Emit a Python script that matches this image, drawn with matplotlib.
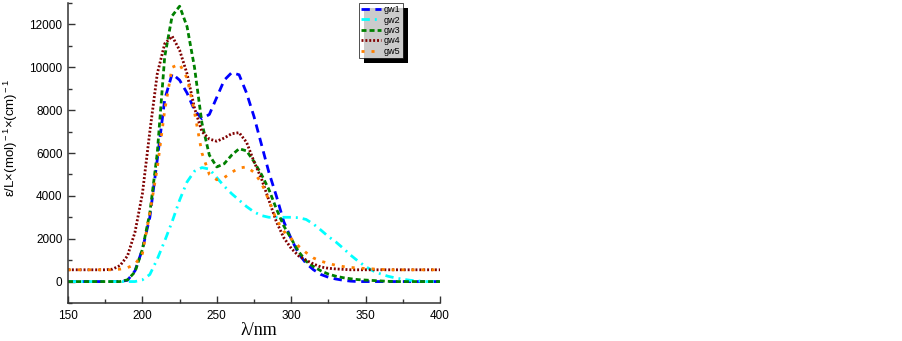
import matplotlib
matplotlib.use('Agg')
import matplotlib.pyplot as plt
from matplotlib.patches import Rectangle
from matplotlib.ticker import MultipleLocator

wavelength = list(range(150, 401, 5))

gw1 = [0, 0, 0, 0, 0, 0, 0, 0, 60, 500,
       1500, 3000, 5700, 8500, 9700, 9400, 8800, 8000, 7600, 7800,
       8600, 9400, 9750, 9650, 8800, 7700, 6400, 5100, 4000, 2800,
       2000, 1300, 850, 550, 330, 200, 120, 60, 20, 0,
       0, 0, 0, 0, 0, 0, 0, 0, 0, 0, 0]
gw2 = [0, 0, 0, 0, 0, 0, 0, 0, 0, 0,
       80, 330, 1050, 1900, 2800, 3800, 4650, 5150, 5320, 5250,
       4850, 4450, 4100, 3800, 3500, 3250, 3080, 3000, 3000, 3000,
       3000, 2980, 2900, 2680, 2400, 2100, 1850, 1550, 1230, 950,
       700, 500, 360, 250, 170, 110, 60, 30, 0, 0, 0]
gw3 = [0, 0, 0, 0, 0, 0, 0, 0, 80, 450,
       1500, 3200, 6000, 10500, 12400, 12850, 11900, 10000, 7400, 5900,
       5350, 5500, 5900, 6200, 6100, 5600, 5000, 4300, 3400, 2600,
       2000, 1400, 950, 700, 500, 350, 250, 180, 130, 90,
       70, 50, 30, 10, 0, 0, 0, 0, 0, 0, 0]
gw4 = [550, 550, 550, 550, 550, 550, 580, 750, 1200, 2300,
       4100, 7000, 9700, 11100, 11450, 10800, 9700, 8100, 7000, 6650,
       6550, 6700, 6900, 6950, 6500, 5600, 4800, 3800, 2800, 2050,
       1550, 1200, 1000, 820, 680, 620, 590, 570, 550, 550,
       550, 550, 550, 550, 550, 550, 550, 550, 550, 550, 550]
gw5 = [550, 550, 550, 550, 550, 550, 550, 580, 650, 800,
       1300, 3200, 5300, 8000, 10000, 10150, 9500, 7900, 6000, 5000,
       4750, 4850, 5100, 5300, 5350, 5100, 4600, 3800, 2900, 2350,
       2000, 1650, 1350, 1100, 950, 850, 760, 700, 660, 630,
       610, 590, 570, 550, 550, 550, 550, 550, 550, 550, 550]

labels = ['gw1', 'gw2', 'gw3', 'gw4', 'gw5']

plt.rcParams['font.family'] = ['Liberation Sans', 'DejaVu Sans']
plt.rcParams['mathtext.fontset'] = 'custom'
plt.rcParams['mathtext.rm'] = 'Liberation Sans'
plt.rcParams['mathtext.it'] = 'Liberation Sans:italic'

fig = plt.figure(figsize=(9.03, 3.41), dpi=100)
ax = fig.add_axes([68 / 903, 38 / 341, 372 / 903, 300 / 341])

lw = 2.0
ax.plot(wavelength, gw1, color='#0000ff', lw=lw, ls=(0, (3, 2)), label=labels[0])
ax.plot(wavelength, gw2, color='#00ffff', lw=lw, ls=(0, (3, 1.8, 0.7, 1.8)), label=labels[1])
ax.plot(wavelength, gw3, color='#008000', lw=lw, ls=(0, (1.8, 1.1)), label=labels[2])
ax.plot(wavelength, gw4, color='#800000', lw=lw, ls=(0, (0.7, 0.7)), label=labels[3])
ax.plot(wavelength, gw5, color='#ff8000', lw=lw, ls=(0, (1.1, 2.5)), label=labels[4])

ax.set_xlim(150, 400)
ax.set_ylim(-1000, 13000)
ax.xaxis.set_major_locator(MultipleLocator(50))
ax.xaxis.set_minor_locator(MultipleLocator(25))
ax.yaxis.set_major_locator(MultipleLocator(2000))
ax.yaxis.set_minor_locator(MultipleLocator(1000))
ax.spines['top'].set_visible(False)
ax.spines['right'].set_visible(False)
for s in ['left', 'bottom']:
    ax.spines[s].set_linewidth(1.1)
    ax.spines[s].set_color('#333333')
ax.tick_params(which='major', direction='in', length=5, width=1, color='#333333', labelsize=8.5)
ax.tick_params(which='minor', direction='in', length=3, width=1, color='#333333')
ax.tick_params(axis='x', pad=5)
ax.tick_params(axis='y', pad=4)

ax.set_ylabel(r'ε/L×(mol)$^{\rm -1}$×(cm)$^{\rm -1}$', fontsize=9.5)
ax.yaxis.set_label_coords(-0.128, 0.55)
ax.set_xlabel('λ/nm', fontsize=13, family='Liberation Serif')
ax.xaxis.set_label_coords(0.513, -0.063)

leg = fig.legend(loc='upper left', bbox_to_anchor=(359 / 903, 1 - 3 / 341),
                 bbox_transform=fig.transFigure, fontsize=6.5, frameon=True,
                 fancybox=False, borderaxespad=0, borderpad=0.25, labelspacing=0.15,
                 handlelength=2.2, handletextpad=0.3)
leg.get_frame().set_edgecolor('black')
leg.get_frame().set_linewidth(0.6)
leg.set_zorder(5)

fig.canvas.draw()
bb = leg.get_window_extent()
shadow = Rectangle((bb.x0 + 5, bb.y0 - 5), bb.width, bb.height,
                   transform=None, facecolor='black', edgecolor='none', zorder=4)
fig.add_artist(shadow)

fig.savefig('out.png', dpi=100)
